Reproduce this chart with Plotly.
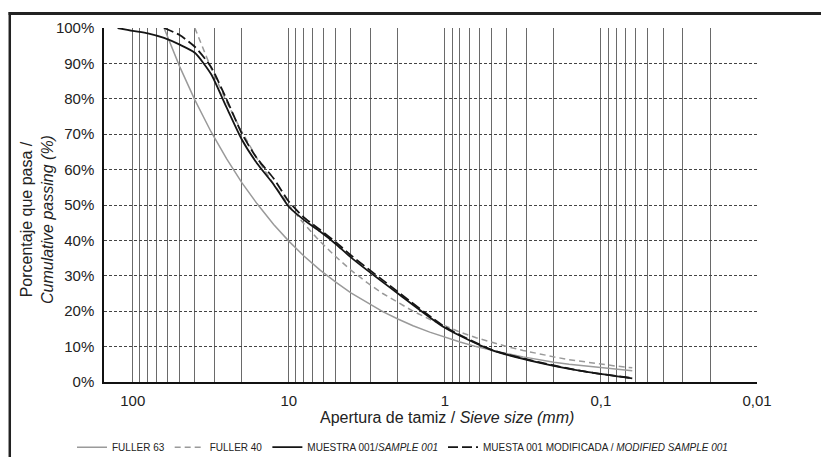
import plotly.graph_objects as go

# ---- data ----
fuller_sizes = [63, 50, 40, 31.5, 25, 20, 16, 12.5, 10, 8, 6.3, 5, 4, 3.15, 2.5, 2, 1.6,
                1.25, 1, 0.8, 0.63, 0.5, 0.4, 0.315, 0.25, 0.2, 0.16, 0.125, 0.1, 0.08, 0.063]
fuller63 = [100, 89.1, 79.7, 70.7, 63.0, 56.3, 50.4, 44.5, 39.8, 35.6, 31.6, 28.2, 25.2, 22.4,
            19.9, 17.8, 15.9, 14.1, 12.6, 11.3, 10.0, 8.9, 8.0, 7.1, 6.3, 5.6, 5.0, 4.5, 4.0, 3.6, 3.2]

fuller40_sizes = [40, 31.5, 25, 20, 16, 12.5, 10, 8, 6.3, 5, 4, 3.15, 2.5, 2, 1.6, 1.25, 1,
                  0.8, 0.63, 0.5, 0.4, 0.315, 0.25, 0.2, 0.16, 0.125, 0.1, 0.08, 0.063]
fuller40 = [100, 88.7, 79.1, 70.7, 63.2, 55.9, 50.0, 44.7, 39.7, 35.4, 31.6, 28.1, 25.0, 22.4,
            20.0, 17.7, 15.8, 14.1, 12.5, 11.2, 10.0, 8.9, 7.9, 7.1, 6.3, 5.6, 5.0, 4.5, 4.0]

sample_sizes = [125, 100, 80, 63, 50, 40, 31.5, 25, 20, 16, 12.5, 10, 8, 6.3, 5, 4, 2, 1,
                0.5, 0.25, 0.125, 0.063]
sample = [100, 99.2, 98.5, 97.2, 95.3, 93.0, 87.0, 77.5, 68.5, 61.8, 55.8, 49.5, 45.8, 42.5,
          39.0, 35.2, 25.0, 15.3, 9.0, 5.5, 2.9, 1.0]

modified_sizes = [63, 50, 40, 31.5, 25, 20, 16, 12.5, 10, 8, 6.3, 5, 4, 2, 1, 0.5, 0.25,
                  0.125, 0.063]
modified = [100, 98.0, 94.7, 89.0, 79.8, 70.2, 63.2, 57.5, 51.0, 46.5, 43.0, 39.5, 35.8,
            25.5, 15.6, 9.1, 5.6, 2.9, 1.1]

grid_vals = [0.01, 0.02, 0.03, 0.04, 0.05, 0.06, 0.07, 0.08, 0.09,
             0.1, 0.2, 0.3, 0.4, 0.5, 0.6, 0.7, 0.8, 0.9,
             1, 2, 3, 4, 5, 6, 7, 8, 9,
             10, 20, 30, 40, 50, 60, 70, 80, 90, 100]
grid_text = ["0,01", "", "", "", "", "", "", "", "",
             "0,1", "", "", "", "", "", "", "", "",
             "1", "", "", "", "", "", "", "", "",
             "10", "", "", "", "", "", "", "", "",
             "100"]
y_ticks = [0, 10, 20, 30, 40, 50, 60, 70, 80, 90, 100]
y_text = ["0%", "10%", "20%", "30%", "40%", "50%", "60%", "70%", "80%", "90%", "100%"]

FONT = "Liberation Sans, Arial, sans-serif"

fig = go.Figure()
fig.add_trace(go.Scatter(x=fuller_sizes, y=fuller63, mode="lines", name="FULLER 63",
                         line=dict(color="#9a9a9a", width=1.5)))
fig.add_trace(go.Scatter(x=fuller40_sizes, y=fuller40, mode="lines", name="FULLER 40",
                         line=dict(color="#9a9a9a", width=1.5, dash="6px,4px")))
fig.add_trace(go.Scatter(x=sample_sizes, y=sample, mode="lines",
                         name="MUESTRA 001/<i>SAMPLE 001</i>",
                         line=dict(color="#151515", width=1.8, shape="spline", smoothing=0.6)))
fig.add_trace(go.Scatter(x=modified_sizes, y=modified, mode="lines",
                         name="MUESTA 001 MODIFICADA / <i>MODIFIED SAMPLE 001</i>",
                         line=dict(color="#151515", width=1.8, dash="10px,4px",
                                   shape="spline", smoothing=0.6)))

fig.update_layout(
    width=822, height=457,
    margin=dict(l=104, r=65, t=28, b=75, autoexpand=False),
    paper_bgcolor="white", plot_bgcolor="white",
    font=dict(family=FONT, color="#222", size=15),
    showlegend=True,
    legend=dict(orientation="h", x=-0.049, xanchor="left", y=-0.184, yanchor="middle",
                font=dict(size=10, color="#222"), bgcolor="rgba(0,0,0,0)",
                tracegroupgap=0),
    xaxis=dict(type="log", range=[2.184, -2.0], tickvals=grid_vals, ticktext=grid_text,
               showgrid=True, gridcolor="#6a6a6a", gridwidth=1,
               showline=True, linecolor="#111", linewidth=1.5, ticks="",
               ticklabelstandoff=4, zeroline=False, tickfont=dict(size=15, color="#222")),
    yaxis=dict(range=[0, 100], tickvals=y_ticks, ticktext=y_text,
               showgrid=True, gridcolor="#444", gridwidth=1, griddash="3px,2px",
               showline=True, linecolor="#111", linewidth=1.5, ticks="",
               ticklabelstandoff=5, zeroline=False, tickfont=dict(size=15, color="#222")),
)

fig.add_annotation(text="Apertura de tamiz / <i>Sieve size (mm)</i>", xref="paper", yref="paper",
                   x=0.525, y=-0.101, xanchor="center", yanchor="middle", showarrow=False,
                   font=dict(size=16, color="#222"))
fig.add_annotation(text="Porcentaje que pasa /<br><i>Cumulative passing (%)</i>", xref="paper",
                   yref="paper", x=-0.1026, y=0.4576, xanchor="center", yanchor="middle",
                   textangle=-90, showarrow=False, font=dict(size=16, color="#222"))

# outer frame (cropped at right and bottom), drawn as thin filled bands
fig.add_shape(type="rect", xref="paper", yref="paper", x0=-0.1462, x1=1.0, y0=1.0367, y1=1.0452,
              fillcolor="#222", line=dict(width=0), layer="above")
fig.add_shape(type="rect", xref="paper", yref="paper", x0=1.0, x1=1.0980, y0=1.0367, y1=1.0452,
              fillcolor="#222", line=dict(width=0), layer="above")
fig.add_shape(type="rect", xref="paper", yref="paper", x0=-0.1462, x1=-0.1424, y0=1.0452, y1=-0.2119,
              fillcolor="#222", line=dict(width=0), layer="above")

fig.write_html("out.html", config={"displayModeBar": False})
